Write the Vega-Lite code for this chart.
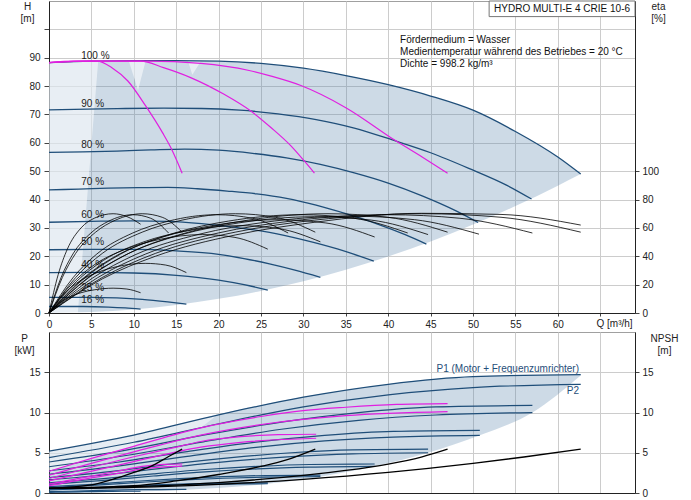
{
  "$schema": "https://vega.github.io/schema/vega-lite/v6.json",
  "padding": {"left": 13, "top": 0, "right": 14, "bottom": 7},
  "background": "white",
  "config": {
    "font": "Liberation Sans",
    "view": {"stroke": "#a0a0a0", "strokeWidth": 1},
    "axis": {
      "labelFont": "Liberation Sans", "labelFontSize": 10, "labelColor": "#222",
      "titleFont": "Liberation Sans", "titleFontSize": 10, "titleFontWeight": "normal", "titleColor": "#222",
      "titleAngle": 0, "titleLineHeight": 12,
      "gridColor": "#cccccc", "gridWidth": 1, "gridOpacity": 1,
      "domainColor": "#222", "tickColor": "#444"
    },
    "text": {"font": "Liberation Sans", "fontSize": 10}
  },
  "datasets": {
    "shadeTop": [
      {"Q": 0, "H": 88.3, "H2": 0}, {"Q": 5, "H": 88.8, "H2": 0.31}, {"Q": 10, "H": 89.0, "H2": 1.25},
      {"Q": 15, "H": 89.0, "H2": 2.81}, {"Q": 20, "H": 88.8, "H2": 4.99}, {"Q": 25, "H": 88.0, "H2": 7.79},
      {"Q": 30, "H": 86.3, "H2": 11.22}, {"Q": 35, "H": 83.7, "H2": 15.28}, {"Q": 40, "H": 80.5, "H2": 19.95},
      {"Q": 45, "H": 76.5, "H2": 25.25}, {"Q": 50, "H": 71.5, "H2": 31.18}, {"Q": 55, "H": 64.0, "H2": 37.72},
      {"Q": 60, "H": 55.0, "H2": 44.89}, {"Q": 62.7, "H": 49.0, "H2": 49.0}
    ],
    "lightTop": [
      {"Q": 0, "H": 88.3, "H2": 0, "part": "a"}, {"Q": 3.4, "H": 88.6, "H2": 0, "part": "a"}, {"Q": 5.8, "H": 88.8, "H2": 88.8, "part": "a"},
      {"Q": 9.4, "H": 88.9, "H2": 88.9, "part": "b"}, {"Q": 10.5, "H": 88.9, "H2": 78.5, "part": "b"}, {"Q": 11.4, "H": 88.9, "H2": 88.9, "part": "b"},
      {"Q": 16.4, "H": 88.8, "H2": 88.8, "part": "c"}, {"Q": 16.9, "H": 88.8, "H2": 84.0, "part": "c"}, {"Q": 17.9, "H": 88.8, "H2": 88.8, "part": "c"}
    ],
    "speed": [
      {"Q": 0, "H": 88.3, "n": "100"}, {"Q": 5, "H": 88.8, "n": "100"}, {"Q": 10, "H": 89.0, "n": "100"}, {"Q": 15, "H": 89.0, "n": "100"},
      {"Q": 20, "H": 88.8, "n": "100"}, {"Q": 25, "H": 88.0, "n": "100"}, {"Q": 30, "H": 86.3, "n": "100"}, {"Q": 35, "H": 83.7, "n": "100"},
      {"Q": 40, "H": 80.5, "n": "100"}, {"Q": 45, "H": 76.5, "n": "100"}, {"Q": 50, "H": 71.5, "n": "100"}, {"Q": 55, "H": 64.0, "n": "100"},
      {"Q": 60, "H": 55.0, "n": "100"}, {"Q": 62.7, "H": 49.0, "n": "100"},
      {"Q": 0, "H": 71.6, "n": "90"}, {"Q": 4.5, "H": 71.9, "n": "90"}, {"Q": 9, "H": 72.1, "n": "90"}, {"Q": 13.5, "H": 72.2, "n": "90"},
      {"Q": 18, "H": 72.1, "n": "90"}, {"Q": 22.5, "H": 71.5, "n": "90"}, {"Q": 27, "H": 70.2, "n": "90"}, {"Q": 31.5, "H": 68.2, "n": "90"},
      {"Q": 36, "H": 65.2, "n": "90"}, {"Q": 40.5, "H": 61.0, "n": "90"}, {"Q": 45, "H": 56.5, "n": "90"}, {"Q": 49.5, "H": 51.0, "n": "90"},
      {"Q": 54, "H": 45.0, "n": "90"}, {"Q": 56.9, "H": 40.2, "n": "90"},
      {"Q": 0, "H": 56.6, "n": "80"}, {"Q": 4, "H": 56.8, "n": "80"}, {"Q": 8, "H": 57.1, "n": "80"}, {"Q": 12, "H": 57.5, "n": "80"},
      {"Q": 16, "H": 57.8, "n": "80"}, {"Q": 20, "H": 57.4, "n": "80"}, {"Q": 24, "H": 56.3, "n": "80"}, {"Q": 28, "H": 54.7, "n": "80"},
      {"Q": 32, "H": 52.4, "n": "80"}, {"Q": 36, "H": 49.4, "n": "80"}, {"Q": 40, "H": 45.8, "n": "80"}, {"Q": 44, "H": 41.3, "n": "80"},
      {"Q": 48, "H": 36.0, "n": "80"}, {"Q": 50.6, "H": 31.9, "n": "80"},
      {"Q": 0, "H": 43.4, "n": "70"}, {"Q": 3.5, "H": 43.7, "n": "70"}, {"Q": 7, "H": 44.0, "n": "70"}, {"Q": 10.5, "H": 44.2, "n": "70"},
      {"Q": 14, "H": 44.3, "n": "70"}, {"Q": 17.5, "H": 43.8, "n": "70"}, {"Q": 21, "H": 43.0, "n": "70"}, {"Q": 24.5, "H": 42.0, "n": "70"},
      {"Q": 28, "H": 40.4, "n": "70"}, {"Q": 31.5, "H": 38.0, "n": "70"}, {"Q": 35, "H": 35.0, "n": "70"}, {"Q": 38.5, "H": 31.6, "n": "70"},
      {"Q": 42, "H": 27.6, "n": "70"}, {"Q": 44.5, "H": 24.3, "n": "70"},
      {"Q": 0, "H": 32.0, "n": "60"}, {"Q": 5, "H": 32.3, "n": "60"}, {"Q": 10, "H": 32.5, "n": "60"}, {"Q": 14, "H": 32.3, "n": "60"},
      {"Q": 18, "H": 31.5, "n": "60"}, {"Q": 22, "H": 30.2, "n": "60"}, {"Q": 26, "H": 28.4, "n": "60"}, {"Q": 30, "H": 25.8, "n": "60"},
      {"Q": 34, "H": 22.6, "n": "60"}, {"Q": 38.3, "H": 18.3, "n": "60"},
      {"Q": 0, "H": 22.3, "n": "50"}, {"Q": 5, "H": 22.4, "n": "50"}, {"Q": 10, "H": 22.4, "n": "50"}, {"Q": 15, "H": 21.9, "n": "50"},
      {"Q": 20, "H": 20.7, "n": "50"}, {"Q": 23, "H": 19.2, "n": "50"}, {"Q": 26, "H": 17.3, "n": "50"}, {"Q": 29, "H": 15.1, "n": "50"},
      {"Q": 32, "H": 12.6, "n": "50"},
      {"Q": 0, "H": 14.2, "n": "40"}, {"Q": 5, "H": 14.3, "n": "40"}, {"Q": 10, "H": 14.1, "n": "40"}, {"Q": 15, "H": 13.3, "n": "40"},
      {"Q": 20, "H": 11.6, "n": "40"}, {"Q": 23, "H": 10.0, "n": "40"}, {"Q": 25.8, "H": 8.1, "n": "40"},
      {"Q": 0, "H": 5.5, "n": "25"}, {"Q": 5, "H": 5.5, "n": "25"}, {"Q": 8, "H": 5.3, "n": "25"}, {"Q": 11, "H": 4.8, "n": "25"},
      {"Q": 14, "H": 3.9, "n": "25"}, {"Q": 16.2, "H": 3.1, "n": "25"},
      {"Q": 0, "H": 2.3, "n": "16"}, {"Q": 4, "H": 2.3, "n": "16"}, {"Q": 7, "H": 2.1, "n": "16"}, {"Q": 9, "H": 1.8, "n": "16"},
      {"Q": 10.8, "H": 1.4, "n": "16"}
    ],
    "maxTop": [
      {"Q": 0, "H": 88.3, "k": "1"}, {"Q": 3, "H": 88.8, "k": "1"}, {"Q": 5.7, "H": 88.8, "k": "1"}, {"Q": 7.5, "H": 86.3, "k": "1"},
      {"Q": 9.3, "H": 81.8, "k": "1"}, {"Q": 11.4, "H": 73.0, "k": "1"}, {"Q": 13.4, "H": 63.5, "k": "1"}, {"Q": 14.5, "H": 57.5, "k": "1"},
      {"Q": 15.7, "H": 49.3, "k": "1"},
      {"Q": 0, "H": 88.3, "k": "2"}, {"Q": 5, "H": 88.8, "k": "2"}, {"Q": 10.8, "H": 88.8, "k": "2"}, {"Q": 13.5, "H": 86.5, "k": "2"},
      {"Q": 16.7, "H": 83.0, "k": "2"}, {"Q": 20.7, "H": 77.0, "k": "2"}, {"Q": 23.8, "H": 71.2, "k": "2"}, {"Q": 26.2, "H": 65.3, "k": "2"},
      {"Q": 28.5, "H": 59.0, "k": "2"}, {"Q": 30.1, "H": 53.6, "k": "2"}, {"Q": 31.3, "H": 49.3, "k": "2"},
      {"Q": 0, "H": 88.3, "k": "3"}, {"Q": 5, "H": 88.8, "k": "3"}, {"Q": 11.6, "H": 88.8, "k": "3"}, {"Q": 17.9, "H": 88.0, "k": "3"},
      {"Q": 23.6, "H": 85.5, "k": "3"}, {"Q": 26.2, "H": 83.5, "k": "3"}, {"Q": 29.7, "H": 80.2, "k": "3"}, {"Q": 35, "H": 72.4, "k": "3"},
      {"Q": 40.9, "H": 60.7, "k": "3"}, {"Q": 44, "H": 55.0, "k": "3"}, {"Q": 47, "H": 49.3, "k": "3"}
    ],
    "labelsTop": [
      {"Q": 3.8, "H": 90.7, "label": "100 %"}, {"Q": 3.8, "H": 73.8, "label": "90 %"}, {"Q": 3.8, "H": 59.1, "label": "80 %"},
      {"Q": 3.8, "H": 46.2, "label": "70 %"}, {"Q": 3.8, "H": 34.6, "label": "60 %"}, {"Q": 3.8, "H": 24.9, "label": "50 %"},
      {"Q": 3.8, "H": 16.9, "label": "40 %"}, {"Q": 3.8, "H": 8.7, "label": "25 %"}, {"Q": 3.8, "H": 4.5, "label": "16 %"}
    ],
    "infoTop": [
      {"Q": 41.4, "H": 96.4, "label": "Fördermedium = Wasser"},
      {"Q": 41.4, "H": 92.1, "label": "Medientemperatur während des Betriebes = 20 °C"},
      {"Q": 41.4, "H": 87.9, "label": "Dichte = 998.2 kg/m³"}
    ],
    "boxTop": [
      {"Q": 51.9, "Q2": 69.1, "H": 104.5, "H2": 110}
    ],
    "boxLabel": [
      {"Q": 60.5, "H": 107.3, "label": "HYDRO MULTI-E 4 CRIE 10-6"}
    ],
    "eta": [
      {"Q": 0, "e": 0, "c": "A1"}, {"Q": 6.27, "e": 25, "c": "A1"}, {"Q": 12.54, "e": 42, "c": "A1"}, {"Q": 21.95, "e": 57, "c": "A1"}, {"Q": 31.35, "e": 65.5, "c": "A1"}, {"Q": 43.89, "e": 70, "c": "A1"}, {"Q": 53.3, "e": 67.5, "c": "A1"}, {"Q": 62.7, "e": 57, "c": "A1"},
      {"Q": 0, "e": 0, "c": "A2"}, {"Q": 5.7, "e": 24.8, "c": "A2"}, {"Q": 11.4, "e": 41.6, "c": "A2"}, {"Q": 19.95, "e": 56.4, "c": "A2"}, {"Q": 28.5, "e": 64.8, "c": "A2"}, {"Q": 39.9, "e": 69.3, "c": "A2"}, {"Q": 48.45, "e": 66.8, "c": "A2"}, {"Q": 57, "e": 56.4, "c": "A2"},
      {"Q": 0, "e": 0, "c": "A3"}, {"Q": 5.07, "e": 24.4, "c": "A3"}, {"Q": 10.14, "e": 41, "c": "A3"}, {"Q": 17.75, "e": 55.6, "c": "A3"}, {"Q": 25.35, "e": 63.9, "c": "A3"}, {"Q": 35.49, "e": 68.3, "c": "A3"}, {"Q": 43.1, "e": 65.8, "c": "A3"}, {"Q": 50.7, "e": 55.6, "c": "A3"},
      {"Q": 0, "e": 0, "c": "A4"}, {"Q": 4.47, "e": 24.3, "c": "A4"}, {"Q": 8.94, "e": 40.7, "c": "A4"}, {"Q": 15.65, "e": 55.3, "c": "A4"}, {"Q": 22.35, "e": 63.5, "c": "A4"}, {"Q": 31.29, "e": 67.9, "c": "A4"}, {"Q": 38, "e": 65.5, "c": "A4"}, {"Q": 44.7, "e": 55.3, "c": "A4"},
      {"Q": 0, "e": 0, "c": "A5"}, {"Q": 3.84, "e": 23.5, "c": "A5"}, {"Q": 7.68, "e": 39.5, "c": "A5"}, {"Q": 13.44, "e": 53.6, "c": "A5"}, {"Q": 19.2, "e": 61.6, "c": "A5"}, {"Q": 26.88, "e": 65.8, "c": "A5"}, {"Q": 32.64, "e": 63.5, "c": "A5"}, {"Q": 38.4, "e": 53.6, "c": "A5"},
      {"Q": 0, "e": 0, "c": "A6"}, {"Q": 3.2, "e": 22, "c": "A6"}, {"Q": 6.4, "e": 37, "c": "A6"}, {"Q": 11.2, "e": 50.2, "c": "A6"}, {"Q": 16, "e": 57.6, "c": "A6"}, {"Q": 22.4, "e": 61.6, "c": "A6"}, {"Q": 27.2, "e": 59.4, "c": "A6"}, {"Q": 32, "e": 50.2, "c": "A6"},
      {"Q": 0, "e": 0, "c": "A7"}, {"Q": 2.58, "e": 19.8, "c": "A7"}, {"Q": 5.16, "e": 33.2, "c": "A7"}, {"Q": 9.03, "e": 45, "c": "A7"}, {"Q": 12.9, "e": 51.7, "c": "A7"}, {"Q": 18.06, "e": 55.3, "c": "A7"}, {"Q": 21.93, "e": 53.3, "c": "A7"}, {"Q": 25.8, "e": 45, "c": "A7"},
      {"Q": 0, "e": 0, "c": "A8"}, {"Q": 1.62, "e": 12.5, "c": "A8"}, {"Q": 3.24, "e": 21, "c": "A8"}, {"Q": 5.67, "e": 28.5, "c": "A8"}, {"Q": 8.1, "e": 32.8, "c": "A8"}, {"Q": 11.34, "e": 35, "c": "A8"}, {"Q": 13.77, "e": 33.8, "c": "A8"}, {"Q": 16.2, "e": 28.5, "c": "A8"},
      {"Q": 0, "e": 0, "c": "A9"}, {"Q": 1.08, "e": 6.3, "c": "A9"}, {"Q": 2.16, "e": 10.5, "c": "A9"}, {"Q": 3.78, "e": 14.3, "c": "A9"}, {"Q": 5.4, "e": 16.4, "c": "A9"}, {"Q": 7.56, "e": 17.5, "c": "A9"}, {"Q": 9.18, "e": 16.9, "c": "A9"}, {"Q": 10.8, "e": 14.3, "c": "A9"},
      {"Q": 0, "e": 0, "c": "B1"}, {"Q": 4.7, "e": 25, "c": "B1"}, {"Q": 9.4, "e": 42, "c": "B1"}, {"Q": 16.45, "e": 57, "c": "B1"}, {"Q": 23.5, "e": 65.5, "c": "B1"}, {"Q": 32.9, "e": 70, "c": "B1"}, {"Q": 39.95, "e": 67.5, "c": "B1"}, {"Q": 47, "e": 57, "c": "B1"},
      {"Q": 0, "e": 0, "c": "B2"}, {"Q": 4.23, "e": 24.8, "c": "B2"}, {"Q": 8.46, "e": 41.6, "c": "B2"}, {"Q": 14.8, "e": 56.4, "c": "B2"}, {"Q": 21.15, "e": 64.8, "c": "B2"}, {"Q": 29.61, "e": 69.3, "c": "B2"}, {"Q": 35.96, "e": 66.8, "c": "B2"}, {"Q": 42.3, "e": 56.4, "c": "B2"},
      {"Q": 0, "e": 0, "c": "C1"}, {"Q": 3.14, "e": 25, "c": "C1"}, {"Q": 6.28, "e": 42, "c": "C1"}, {"Q": 10.99, "e": 57, "c": "C1"}, {"Q": 15.7, "e": 65.5, "c": "C1"}, {"Q": 21.98, "e": 70, "c": "C1"}, {"Q": 26.69, "e": 67.5, "c": "C1"}, {"Q": 31.4, "e": 57, "c": "C1"},
      {"Q": 0, "e": 0, "c": "C2"}, {"Q": 2.82, "e": 24.8, "c": "C2"}, {"Q": 5.64, "e": 41.6, "c": "C2"}, {"Q": 9.87, "e": 56.4, "c": "C2"}, {"Q": 14.1, "e": 64.8, "c": "C2"}, {"Q": 19.74, "e": 69.3, "c": "C2"}, {"Q": 23.97, "e": 66.8, "c": "C2"}, {"Q": 28.2, "e": 56.4, "c": "C2"},
      {"Q": 0, "e": 0, "c": "D1"}, {"Q": 1.57, "e": 25, "c": "D1"}, {"Q": 3.14, "e": 42, "c": "D1"}, {"Q": 5.5, "e": 57, "c": "D1"}, {"Q": 7.85, "e": 65.5, "c": "D1"}, {"Q": 10.99, "e": 70, "c": "D1"}, {"Q": 13.35, "e": 67.5, "c": "D1"}, {"Q": 15.7, "e": 57, "c": "D1"},
      {"Q": 0, "e": 0, "c": "D2"}, {"Q": 1.41, "e": 24.8, "c": "D2"}, {"Q": 2.82, "e": 41.6, "c": "D2"}, {"Q": 4.94, "e": 56.4, "c": "D2"}, {"Q": 7.05, "e": 64.8, "c": "D2"}, {"Q": 9.87, "e": 69.3, "c": "D2"}, {"Q": 11.99, "e": 66.8, "c": "D2"}, {"Q": 14.1, "e": 56.4, "c": "D2"},
      {"Q": 0, "e": 0, "c": "D4"}, {"Q": 1.08, "e": 27, "c": "D4"}, {"Q": 2.16, "e": 45, "c": "D4"}, {"Q": 3.78, "e": 60, "c": "D4"}, {"Q": 5.4, "e": 67, "c": "D4"}, {"Q": 7.56, "e": 70, "c": "D4"}, {"Q": 9.18, "e": 68, "c": "D4"}, {"Q": 10.8, "e": 62.6, "c": "D4"},
      {"Q": 0, "e": 0, "c": "E"}, {"Q": 6.27, "e": 24, "c": "E"}, {"Q": 12.54, "e": 40, "c": "E"}, {"Q": 21.95, "e": 55, "c": "E"}, {"Q": 31.35, "e": 64, "c": "E"}, {"Q": 43.89, "e": 70.3, "c": "E"}, {"Q": 53.3, "e": 69.5, "c": "E"}, {"Q": 62.7, "e": 62, "c": "E"}
    ],
    "shadeBottom": [
      {"Q": 0, "P": 5.2, "P2": 0}, {"Q": 10.8, "P": 7.4, "P2": 0.2}, {"Q": 16.2, "P": 8.8, "P2": 0.41}, {"Q": 25.8, "P": 11.1, "P2": 1.15},
      {"Q": 32, "P": 12.3, "P2": 2.03}, {"Q": 38.4, "P": 13.3, "P2": 3.31}, {"Q": 44.7, "P": 14.1, "P2": 5.0}, {"Q": 50.8, "P": 14.5, "P2": 7.16},
      {"Q": 57, "P": 14.62, "P2": 10.0}, {"Q": 62.7, "P": 14.7, "P2": 14.6}
    ],
    "lightBottom": [
      {"Q": 0, "P": 5.2, "P2": 2.7}, {"Q": 5, "P": 6.1, "P2": 4.3}, {"Q": 10, "P": 7.2, "P2": 5.8},
      {"Q": 15, "P": 8.5, "P2": 7.3}, {"Q": 17.9, "P": 9.2, "P2": 8.1}, {"Q": 19.8, "P": 9.65, "P2": 9.65}
    ],
    "power": [
      {"Q": 0, "P": 5.2, "c": "P1-100"}, {"Q": 10, "P": 7.2, "c": "P1-100"}, {"Q": 20, "P": 9.7, "c": "P1-100"}, {"Q": 30, "P": 11.9, "c": "P1-100"}, {"Q": 40, "P": 13.5, "c": "P1-100"}, {"Q": 50, "P": 14.45, "c": "P1-100"}, {"Q": 62.7, "P": 14.7, "c": "P1-100"},
      {"Q": 0, "P": 4.4, "c": "P2-100"}, {"Q": 10, "P": 6.3, "c": "P2-100"}, {"Q": 20, "P": 8.6, "c": "P2-100"}, {"Q": 30, "P": 10.7, "c": "P2-100"}, {"Q": 40, "P": 12.2, "c": "P2-100"}, {"Q": 50, "P": 13.1, "c": "P2-100"}, {"Q": 62.7, "P": 13.5, "c": "P2-100"},
      {"Q": 0, "P": 3.85, "c": "P1-90"}, {"Q": 9.1, "P": 5.33, "c": "P1-90"}, {"Q": 18.2, "P": 7.18, "c": "P1-90"}, {"Q": 27.4, "P": 8.81, "c": "P1-90"}, {"Q": 36.5, "P": 9.99, "c": "P1-90"}, {"Q": 45.6, "P": 10.69, "c": "P1-90"}, {"Q": 57, "P": 10.88, "c": "P1-90"},
      {"Q": 0, "P": 3.26, "c": "P2-90"}, {"Q": 9.1, "P": 4.66, "c": "P2-90"}, {"Q": 18.2, "P": 6.36, "c": "P2-90"}, {"Q": 27.4, "P": 7.92, "c": "P2-90"}, {"Q": 36.5, "P": 9.03, "c": "P2-90"}, {"Q": 45.6, "P": 9.69, "c": "P2-90"}, {"Q": 57, "P": 9.99, "c": "P2-90"},
      {"Q": 0, "P": 2.76, "c": "P1-80"}, {"Q": 8.1, "P": 3.82, "c": "P1-80"}, {"Q": 16.3, "P": 5.14, "c": "P1-80"}, {"Q": 24.4, "P": 6.31, "c": "P1-80"}, {"Q": 32.5, "P": 7.16, "c": "P1-80"}, {"Q": 40.6, "P": 7.66, "c": "P1-80"}, {"Q": 50.8, "P": 7.79, "c": "P1-80"},
      {"Q": 0, "P": 2.33, "c": "P2-80"}, {"Q": 8.1, "P": 3.34, "c": "P2-80"}, {"Q": 16.3, "P": 4.56, "c": "P2-80"}, {"Q": 24.4, "P": 5.67, "c": "P2-80"}, {"Q": 32.5, "P": 6.47, "c": "P2-80"}, {"Q": 40.6, "P": 6.94, "c": "P2-80"}, {"Q": 50.8, "P": 7.16, "c": "P2-80"},
      {"Q": 0, "P": 1.92, "c": "P1-70"}, {"Q": 7.2, "P": 2.66, "c": "P1-70"}, {"Q": 14.3, "P": 3.59, "c": "P1-70"}, {"Q": 21.5, "P": 4.4, "c": "P1-70"}, {"Q": 28.6, "P": 5.0, "c": "P1-70"}, {"Q": 35.8, "P": 5.35, "c": "P1-70"}, {"Q": 44.7, "P": 5.44, "c": "P1-70"},
      {"Q": 0, "P": 1.63, "c": "P2-70"}, {"Q": 7.2, "P": 2.33, "c": "P2-70"}, {"Q": 14.3, "P": 3.18, "c": "P2-70"}, {"Q": 21.5, "P": 3.96, "c": "P2-70"}, {"Q": 28.6, "P": 4.51, "c": "P2-70"}, {"Q": 35.8, "P": 4.85, "c": "P2-70"}, {"Q": 44.7, "P": 5.0, "c": "P2-70"},
      {"Q": 0, "P": 1.27, "c": "P1-60"}, {"Q": 6.1, "P": 1.76, "c": "P1-60"}, {"Q": 12.3, "P": 2.38, "c": "P1-60"}, {"Q": 18.4, "P": 2.92, "c": "P1-60"}, {"Q": 24.6, "P": 3.31, "c": "P1-60"}, {"Q": 30.7, "P": 3.54, "c": "P1-60"}, {"Q": 38.4, "P": 3.6, "c": "P1-60"},
      {"Q": 0, "P": 1.08, "c": "P2-60"}, {"Q": 6.1, "P": 1.54, "c": "P2-60"}, {"Q": 12.3, "P": 2.11, "c": "P2-60"}, {"Q": 18.4, "P": 2.62, "c": "P2-60"}, {"Q": 24.6, "P": 2.99, "c": "P2-60"}, {"Q": 30.7, "P": 3.21, "c": "P2-60"}, {"Q": 38.4, "P": 3.31, "c": "P2-60"},
      {"Q": 0, "P": 0.78, "c": "P1-50"}, {"Q": 5.1, "P": 1.08, "c": "P1-50"}, {"Q": 10.2, "P": 1.46, "c": "P1-50"}, {"Q": 15.4, "P": 1.79, "c": "P1-50"}, {"Q": 20.5, "P": 2.03, "c": "P1-50"}, {"Q": 25.6, "P": 2.17, "c": "P1-50"}, {"Q": 32, "P": 2.21, "c": "P1-50"},
      {"Q": 0, "P": 0.66, "c": "P2-50"}, {"Q": 5.1, "P": 0.95, "c": "P2-50"}, {"Q": 10.2, "P": 1.29, "c": "P2-50"}, {"Q": 15.4, "P": 1.61, "c": "P2-50"}, {"Q": 20.5, "P": 1.83, "c": "P2-50"}, {"Q": 25.6, "P": 1.97, "c": "P2-50"}, {"Q": 32, "P": 2.03, "c": "P2-50"},
      {"Q": 0, "P": 0.44, "c": "P1-40"}, {"Q": 4.1, "P": 0.61, "c": "P1-40"}, {"Q": 8.3, "P": 0.82, "c": "P1-40"}, {"Q": 12.4, "P": 1.01, "c": "P1-40"}, {"Q": 16.5, "P": 1.15, "c": "P1-40"}, {"Q": 20.6, "P": 1.23, "c": "P1-40"}, {"Q": 25.8, "P": 1.25, "c": "P1-40"},
      {"Q": 0, "P": 0.37, "c": "P2-40"}, {"Q": 4.1, "P": 0.54, "c": "P2-40"}, {"Q": 8.3, "P": 0.73, "c": "P2-40"}, {"Q": 12.4, "P": 0.91, "c": "P2-40"}, {"Q": 16.5, "P": 1.04, "c": "P2-40"}, {"Q": 20.6, "P": 1.11, "c": "P2-40"}, {"Q": 25.8, "P": 1.15, "c": "P2-40"},
      {"Q": 0, "P": 0.16, "c": "P1-25"}, {"Q": 2.6, "P": 0.22, "c": "P1-25"}, {"Q": 5.2, "P": 0.29, "c": "P1-25"}, {"Q": 7.8, "P": 0.36, "c": "P1-25"}, {"Q": 10.4, "P": 0.41, "c": "P1-25"}, {"Q": 13, "P": 0.43, "c": "P1-25"}, {"Q": 16.2, "P": 0.44, "c": "P1-25"},
      {"Q": 0, "P": 0.08, "c": "P1-16"}, {"Q": 1.7, "P": 0.11, "c": "P1-16"}, {"Q": 3.5, "P": 0.15, "c": "P1-16"}, {"Q": 5.2, "P": 0.18, "c": "P1-16"}, {"Q": 6.9, "P": 0.2, "c": "P1-16"}, {"Q": 8.6, "P": 0.22, "c": "P1-16"}, {"Q": 10.8, "P": 0.22, "c": "P1-16"}
    ],
    "powerMax": [
      {"Q": 0, "P": 2.7, "c": "M3a"}, {"Q": 5, "P": 4.3, "c": "M3a"}, {"Q": 10, "P": 5.8, "c": "M3a"}, {"Q": 17.9, "P": 8.1, "c": "M3a"}, {"Q": 25, "P": 9.5, "c": "M3a"}, {"Q": 29.7, "P": 10.2, "c": "M3a"}, {"Q": 35, "P": 10.65, "c": "M3a"}, {"Q": 41, "P": 11.0, "c": "M3a"}, {"Q": 47, "P": 11.1, "c": "M3a"},
      {"Q": 0, "P": 2.2, "c": "M3b"}, {"Q": 10, "P": 5.1, "c": "M3b"}, {"Q": 17.9, "P": 7.2, "c": "M3b"}, {"Q": 25, "P": 8.5, "c": "M3b"}, {"Q": 35, "P": 9.6, "c": "M3b"}, {"Q": 47, "P": 10.1, "c": "M3b"},
      {"Q": 0, "P": 1.8, "c": "M2a"}, {"Q": 5, "P": 3.2, "c": "M2a"}, {"Q": 10, "P": 4.5, "c": "M2a"}, {"Q": 15, "P": 5.7, "c": "M2a"}, {"Q": 17.9, "P": 6.4, "c": "M2a"}, {"Q": 22.6, "P": 7.0, "c": "M2a"}, {"Q": 27, "P": 7.25, "c": "M2a"}, {"Q": 31.5, "P": 7.3, "c": "M2a"},
      {"Q": 0, "P": 1.5, "c": "M2b"}, {"Q": 10, "P": 3.9, "c": "M2b"}, {"Q": 17.9, "P": 5.7, "c": "M2b"}, {"Q": 22.6, "P": 6.3, "c": "M2b"}, {"Q": 31.5, "P": 6.8, "c": "M2b"},
      {"Q": 0, "P": 1.1, "c": "M1a"}, {"Q": 4, "P": 1.9, "c": "M1a"}, {"Q": 8, "P": 2.7, "c": "M1a"}, {"Q": 11, "P": 3.3, "c": "M1a"}, {"Q": 13.5, "P": 3.55, "c": "M1a"}, {"Q": 15.7, "P": 3.6, "c": "M1a"},
      {"Q": 0, "P": 0.9, "c": "M1b"}, {"Q": 4, "P": 1.7, "c": "M1b"}, {"Q": 8, "P": 2.4, "c": "M1b"}, {"Q": 11, "P": 3.0, "c": "M1b"}, {"Q": 13.5, "P": 3.25, "c": "M1b"}, {"Q": 15.7, "P": 3.35, "c": "M1b"}
    ],
    "labelsBottom": [
      {"Q": 62.5, "P": 15.4, "label": "P1 (Motor + Frequenzumrichter)"},
      {"Q": 62.5, "P": 12.7, "label": "P2"}
    ],
    "npsh": [
      {"Q": 0, "N": 0.58, "k": "4"}, {"Q": 10, "N": 0.7, "k": "4"}, {"Q": 20, "N": 1.08, "k": "4"}, {"Q": 30, "N": 1.7, "k": "4"}, {"Q": 40, "N": 2.56, "k": "4"}, {"Q": 50, "N": 3.68, "k": "4"}, {"Q": 56, "N": 4.47, "k": "4"}, {"Q": 62.7, "N": 5.45, "k": "4"},
      {"Q": 0, "N": 0.58, "k": "3"}, {"Q": 10, "N": 0.8, "k": "3"}, {"Q": 20, "N": 1.3, "k": "3"}, {"Q": 30, "N": 2.2, "k": "3"}, {"Q": 35, "N": 2.8, "k": "3"}, {"Q": 40, "N": 3.6, "k": "3"}, {"Q": 44, "N": 4.5, "k": "3"}, {"Q": 47, "N": 5.45, "k": "3"},
      {"Q": 0, "N": 0.58, "k": "2"}, {"Q": 10, "N": 0.9, "k": "2"}, {"Q": 15, "N": 1.5, "k": "2"}, {"Q": 20, "N": 2.3, "k": "2"}, {"Q": 25, "N": 3.3, "k": "2"}, {"Q": 28, "N": 4.1, "k": "2"}, {"Q": 31.4, "N": 5.45, "k": "2"},
      {"Q": 0, "N": 0.58, "k": "1"}, {"Q": 5, "N": 1.0, "k": "1"}, {"Q": 7.5, "N": 1.7, "k": "1"}, {"Q": 10, "N": 2.56, "k": "1"}, {"Q": 12, "N": 3.3, "k": "1"}, {"Q": 14, "N": 4.47, "k": "1"}, {"Q": 15.7, "N": 5.45, "k": "1"}
    ]
  },
  "spacing": 19,
  "bounds": "flush",
  "vconcat": [
    {
      "width": 586,
      "height": 312,
      "encoding": {
        "x": {
          "field": "Q", "type": "quantitative",
          "scale": {"domain": [0, 69.1], "nice": false, "zero": false},
          "axis": {
            "values": [0, 5, 10, 15, 20, 25, 30, 35, 40, 45, 50, 55, 60, 65],
            "labelExpr": "datum.value > 62 ? '' : datum.label",
            "grid": true, "tickSize": 3, "labelPadding": 3, "labelFlush": false,
            "title": "Q [m³/h]", "titleX": 547, "titleY": 10, "titleAlign": "left", "titleBaseline": "middle"
          }
        }
      },
      "layer": [
        {
          "encoding": {
            "y": {
              "field": "H", "type": "quantitative",
              "scale": {"domain": [0, 110], "nice": false},
              "axis": {
                "values": [0, 10, 20, 30, 40, 50, 60, 70, 80, 90, 100],
                "labelExpr": "datum.value > 95 ? '' : datum.label",
                "grid": true, "tickSize": 5, "labelPadding": 4,
                "title": ["H", "[m]"], "titleX": -22, "titleY": 0, "titleAlign": "center", "titleBaseline": "top"
              }
            }
          },
          "layer": [
            {
              "data": {"name": "shadeTop"},
              "mark": {"type": "area", "color": "#5b86ad", "opacity": 0.3, "interpolate": "monotone"},
              "encoding": {"y2": {"field": "H2"}}
            },
            {
              "data": {"name": "lightTop"},
              "mark": {"type": "area", "color": "white", "opacity": 0.55, "interpolate": "linear"},
              "encoding": {"y2": {"field": "H2"}, "detail": {"field": "part"}}
            },
            {
              "data": {"name": "speed"},
              "mark": {"type": "line", "color": "#1f4e79", "strokeWidth": 1.3, "interpolate": "monotone"},
              "encoding": {"detail": {"field": "n"}}
            },
            {
              "data": {"name": "maxTop"},
              "mark": {"type": "line", "color": "#e020e0", "strokeWidth": 1.2, "interpolate": "monotone"},
              "encoding": {"detail": {"field": "k"}}
            },
            {
              "data": {"name": "labelsTop"},
              "mark": {"type": "text", "align": "left", "baseline": "middle", "color": "#222", "fontSize": 10},
              "encoding": {"text": {"field": "label"}}
            },
            {
              "data": {"name": "infoTop"},
              "mark": {"type": "text", "align": "left", "baseline": "middle", "color": "#111", "fontSize": 10},
              "encoding": {"text": {"field": "label"}}
            },
            {
              "data": {"name": "boxTop"},
              "mark": {"type": "rect", "fill": "white", "stroke": "#777", "strokeWidth": 1},
              "encoding": {"x2": {"field": "Q2"}, "y2": {"field": "H2"}}
            },
            {
              "data": {"name": "boxLabel"},
              "mark": {"type": "text", "align": "center", "baseline": "middle", "color": "#111", "fontSize": 10},
              "encoding": {"text": {"field": "label"}}
            }
          ]
        },
        {
          "data": {"name": "eta"},
          "mark": {"type": "line", "color": "black", "strokeWidth": 0.8, "interpolate": "monotone"},
          "encoding": {
            "y": {
              "field": "e", "type": "quantitative",
              "scale": {"domain": [0, 220], "nice": false},
              "axis": {
                "orient": "right", "values": [0, 20, 40, 60, 80, 100], "grid": false,
                "tickSize": 4, "labelPadding": 3,
                "title": ["eta", "[%]"], "titleX": 23, "titleY": 0, "titleAlign": "center", "titleBaseline": "top"
              }
            },
            "detail": {"field": "c"}
          }
        }
      ],
      "resolve": {"scale": {"y": "independent"}}
    },
    {
      "width": 586,
      "height": 161,
      "encoding": {
        "x": {
          "field": "Q", "type": "quantitative",
          "scale": {"domain": [0, 69.1], "nice": false, "zero": false},
          "axis": {
            "values": [0, 5, 10, 15, 20, 25, 30, 35, 40, 45, 50, 55, 60, 65],
            "labels": false, "ticks": false, "grid": true, "title": null
          }
        }
      },
      "layer": [
        {
          "encoding": {
            "y": {
              "field": "P", "type": "quantitative",
              "scale": {"domain": [0, 20], "nice": false},
              "axis": {
                "values": [0, 5, 10, 15], "grid": true, "tickSize": 5, "labelPadding": 4,
                "title": ["P", "[kW]"], "titleX": -25, "titleY": 1, "titleAlign": "center", "titleBaseline": "top"
              }
            }
          },
          "layer": [
            {
              "data": {"name": "shadeBottom"},
              "mark": {"type": "area", "color": "#5b86ad", "opacity": 0.3, "interpolate": "monotone"},
              "encoding": {"y2": {"field": "P2"}}
            },
            {
              "data": {"name": "lightBottom"},
              "mark": {"type": "area", "color": "white", "opacity": 0.5, "interpolate": "linear"},
              "encoding": {"y2": {"field": "P2"}}
            },
            {
              "data": {"name": "power"},
              "mark": {"type": "line", "color": "#1f4e79", "strokeWidth": 1.2, "interpolate": "monotone"},
              "encoding": {"detail": {"field": "c"}}
            },
            {
              "data": {"name": "powerMax"},
              "mark": {"type": "line", "color": "#e020e0", "strokeWidth": 1.2, "interpolate": "monotone"},
              "encoding": {"detail": {"field": "c"}}
            },
            {
              "data": {"name": "labelsBottom"},
              "mark": {"type": "text", "align": "right", "baseline": "middle", "color": "#1f4e79", "fontSize": 10},
              "encoding": {"text": {"field": "label"}}
            }
          ]
        },
        {
          "data": {"name": "npsh"},
          "mark": {"type": "line", "color": "black", "strokeWidth": 1.3, "interpolate": "monotone"},
          "encoding": {
            "y": {
              "field": "N", "type": "quantitative",
              "scale": {"domain": [0, 20], "nice": false},
              "axis": {
                "orient": "right", "values": [0, 5, 10, 15], "grid": false, "tickSize": 4, "labelPadding": 3,
                "title": ["NPSH", "[m]"], "titleX": 29, "titleY": 1, "titleAlign": "center", "titleBaseline": "top"
              }
            },
            "detail": {"field": "k"}
          }
        }
      ],
      "resolve": {"scale": {"y": "independent"}}
    }
  ]
}
